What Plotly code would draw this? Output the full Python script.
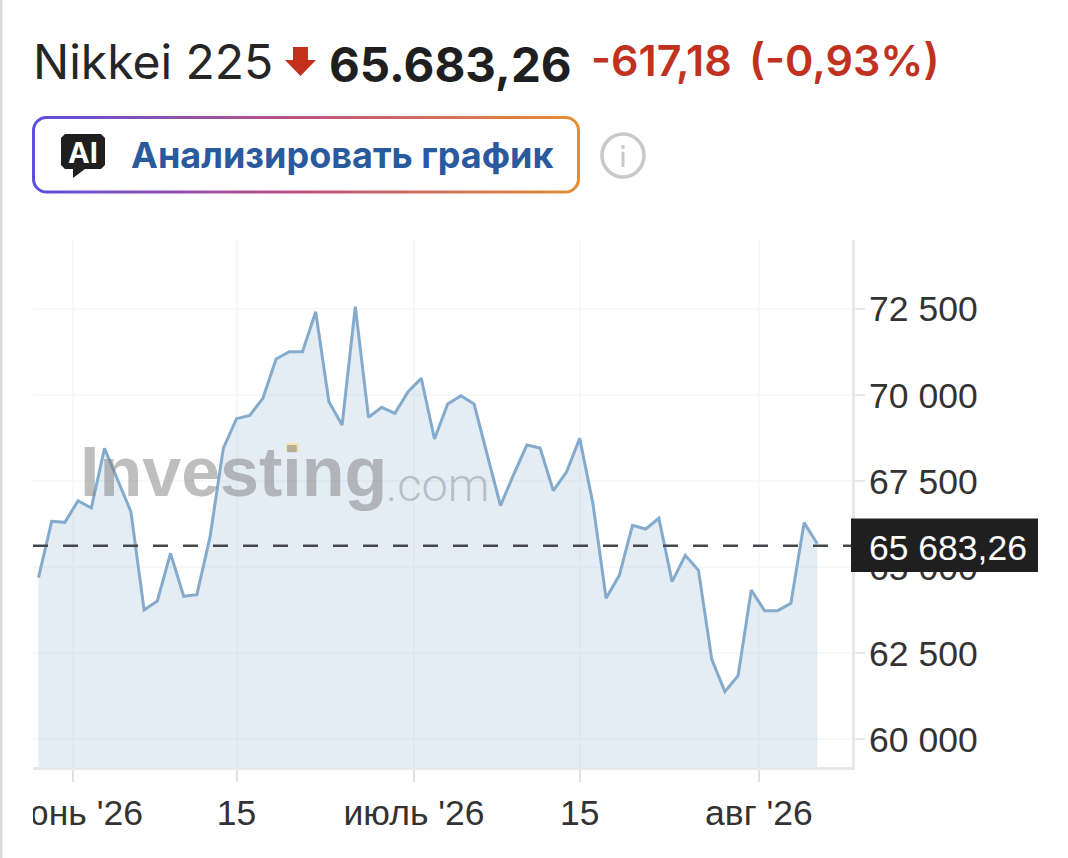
import base64
import plotly.graph_objects as go

# ---- data ----
x_index = list(range(60))
closes = [64698, 66334, 66305, 66934, 66721, 68454, 67534, 66614, 63759, 64020,
          65404, 64156, 64204, 65888, 68454, 69315, 69412, 69906, 71048, 71261,
          71261, 72422, 69809, 69131, 72568, 69354, 69644, 69470, 70099, 70486,
          68725, 69741, 69983, 69741, 68260, 66789, 67699, 68550, 68463, 67224,
          67766, 68744, 66856, 64098, 64766, 66218, 66111, 66421, 64582, 65346,
          64911, 62336, 61387, 61852, 64340, 63739, 63739, 63952, 66295, 65683]
x_tick_pos = [2.58, 15.0, 28.45, 41.0, 54.58]
x_tick_text = ["июнь '26", "15", "июль '26", "15", "авг '26"]
y_tick_vals = [60000, 62500, 65000, 67500, 70000, 72500]
y_tick_text = ["60 000", "62 500", "65 000", "67 500", "70 000", "72 500"]

title_name = "Nikkei 225"
title_price = "65.683,26"
title_change = "-617,18"
title_pct = "(-0,93%)"
button_text = "Анализировать график"
last_label = "65 683,26"

# ---- page geometry ----
W, H = 1068, 858
PL, PR, PT, PB = 33, 852, 240, 767


def X(px):
    return (px - PL) / (PR - PL)


def Y(py):
    return 1 - (py - PT) / (PB - PT)


def note(text, px, py, size, color, family="Inter", weight=400, anchor="left"):
    return dict(text=text, x=X(px), y=Y(py), xref="paper", yref="paper", showarrow=False,
                xanchor=anchor, yanchor="middle", borderpad=0,
                font=dict(family=family, size=size, color=color, weight=weight))


def box(x0, y0, x1, y1, fill, line=None, lw=0, layer="above", kind="rect"):
    return dict(type=kind, xref="paper", yref="paper", x0=X(x0), x1=X(x1), y0=Y(y0), y1=Y(y1),
                fillcolor=fill, line=dict(color=line or fill, width=lw), layer=layer)


def path(points, fill):
    d = "M " + " L ".join(f"{X(a):.5f},{Y(b):.5f}" for a, b in points) + " Z"
    return dict(type="path", xref="paper", yref="paper", path=d, fillcolor=fill,
                line=dict(width=0), layer="above")


fig = go.Figure()
fig.add_trace(go.Scatter(x=x_index, y=closes, mode="lines", fill="tozeroy",
                         fillcolor="rgba(170,195,222,0.32)",
                         line=dict(color="#85abcc", width=3), hoverinfo="skip",
                         showlegend=False))

shapes = [
    box(0, 768, PL, 858, "#ffffff"),           # clips the first month label at the chart edge
    box(0, 0, 2.5, 858, "#dcdcdc"),
    box(286, 443, 299, 452, "#f1e3b4"),        # watermark dot
    dict(type="line", xref="paper", yref="paper", x0=0, x1=1, y0=Y(545.7), y1=Y(545.7),
         line=dict(color="#44484d", width=2.4, dash="15px,15px"), layer="above"),
    box(851, 518.5, 1038, 572, "#1f1f1f"),
    # down arrow
    path([(293, 47), (308, 47), (308, 60), (316, 60), (300.5, 76), (285, 60), (293, 60)], "#c5301d"),
    # AI icon
    path([(65, 134), (101, 134), (105, 138), (105, 165), (101, 169),
          (85, 169), (73, 178), (73, 169), (65, 169), (61, 165), (61, 138)], "#1f1f1f"),
    # info icon
    box(602, 134, 644, 177, "rgba(0,0,0,0)", "#c9c9c9", 3.5, kind="circle"),
    box(621.5, 152, 624.5, 167, "#c9c9c9"),
    box(621.5, 145, 624.5, 149, "#c9c9c9"),
]

svg = ('<svg xmlns="http://www.w3.org/2000/svg" width="550" height="80" viewBox="0 0 550 80">'
       '<defs><linearGradient id="g" x1="0" y1="0" x2="1" y2="0">'
       '<stop offset="0" stop-color="#5a4fdf"/><stop offset="0.5" stop-color="#c0527f"/>'
       '<stop offset="1" stop-color="#e58e35"/></linearGradient></defs>'
       '<rect x="3.5" y="2.5" width="545" height="74.5" rx="13" fill="#fff" stroke="url(#g)" stroke-width="3"/>'
       '</svg>')
src = "data:image/svg+xml;base64," + base64.b64encode(svg.encode()).decode()

annotations = [
    note(title_name, 31.5, 61, 48, "#262626"),
    note(title_price, 328, 64, 47.5, "#1f1f1f", weight=700),
    note(title_change, 590, 60, 43, "#c0321f", weight=600),
    note(title_pct, 748, 60, 43, "#c0321f", weight=600),
    note("AI", 83, 152, 29, "#ffffff", weight=700, anchor="center"),
    note(button_text, 130, 155, 36, "#2a5a9e", weight=700),
    note(last_label, 868, 548, 35.5, "#ffffff", family="Liberation Sans"),
    note("Investing", 79, 472, 70, "rgba(125,125,125,0.5)", family="Liberation Sans", weight=700),
    note(".com", 385, 484, 47, "rgba(125,135,145,0.45)", family="Roboto", weight=300),
]

axis_font = dict(family="Liberation Sans", size=35.5, color="#333333")
fig.update_layout(
    width=W, height=H, paper_bgcolor="white", plot_bgcolor="white",
    margin=dict(l=PL, r=W - PR, t=PT, b=H - PB, autoexpand=False),
    shapes=shapes, annotations=annotations,
    images=[dict(source=src, xref="paper", yref="paper", x=X(30), y=Y(115), sizex=X(580) - X(30),
                 sizey=Y(115) - Y(195), xanchor="left", yanchor="top", sizing="stretch", layer="below")],
    xaxis=dict(range=[-0.417, 61.63], tickmode="array", tickvals=x_tick_pos, ticktext=x_tick_text,
               showgrid=True, gridcolor="#f7f8f9", gridwidth=2, zeroline=False,
               showline=True, linecolor="#e6e8ea", linewidth=3, ticks="outside", ticklen=12,
               tickwidth=2, tickcolor="#dfe2e5", tickfont=axis_font, ticklabelstandoff=0),
    yaxis=dict(range=[59199, 74504], side="right", tickmode="array", tickvals=y_tick_vals,
               ticktext=y_tick_text, showgrid=True, gridcolor="#f7f8f9", gridwidth=2, zeroline=False,
               showline=True, linecolor="#e6e8ea", linewidth=3, ticks="outside", ticklen=10,
               tickwidth=2, tickcolor="#e6e8ea", tickfont=axis_font, ticklabelstandoff=-3),
)

fig.write_html("out.html", post_script="document.body.style.margin='0';",
               config=dict(displayModeBar=False))
